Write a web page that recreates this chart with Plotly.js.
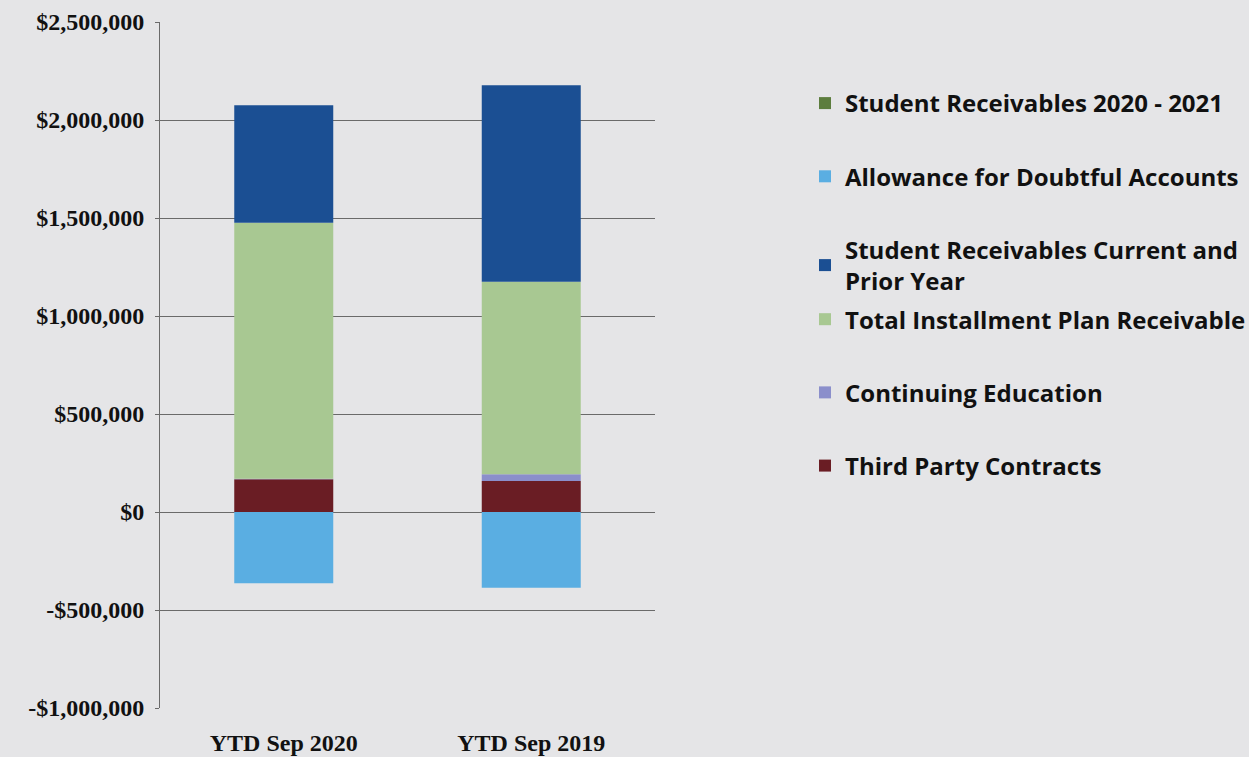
<!DOCTYPE html>
<html>
<head>
<meta charset="utf-8">
<script src="https://cdn.plot.ly/plotly-3.0.1.min.js"></script>
<style>
  html, body { margin: 0; padding: 0; background: #e5e5e7; }
  #chart { width: 1249px; height: 757px; }
</style>
</head>
<body>
<div id="chart"></div>
<script>
// Categories
const categories = ["YTD Sep 2020", "YTD Sep 2019"];

// Series values
const thirdParty      = [167000, 158000];
const continuingEd    = [3000, 34000];
const installmentPlan = [1306000, 983000];
const studentCurrent  = [599000, 1002000];
const allowance       = [-364000, -386000];
const student2020     = [0, 0];

// Series names
const seriesNames = [
  "Third Party Contracts",
  "Continuing Education",
  "Total Installment Plan Receivable",
  "Student Receivables Current and<br>Prior Year",
  "Allowance for Doubtful Accounts",
  "Student Receivables 2020 - 2021"
];
const seriesValues = [thirdParty, continuingEd, installmentPlan, studentCurrent, allowance, student2020];
const seriesColors = ["#6a1d24", "#8b8fcb", "#a8c892", "#1b4f93", "#5aaee2", "#5c7d3e"];
const seriesLegend = ["legend2", "legend2", "legend2", "legend", "legend", "legend"];
const seriesRank   = [6, 5, 4, 3, 2, 1];

// Y tick labels
const yTickVals = [-1000000, -500000, 0, 500000, 1000000, 1500000, 2000000, 2500000];
const yTickText = ["-$1,000,000", "-$500,000", "$0", "$500,000", "$1,000,000", "$1,500,000", "$2,000,000", "$2,500,000"];

const traces = seriesNames.map((name, i) => ({
  type: "bar",
  name: name,
  x: categories,
  y: seriesValues[i],
  marker: { color: seriesColors[i], line: { width: 0 } },
  legend: seriesLegend[i],
  legendgroup: "g" + i,
  legendrank: seriesRank[i],
  hoverinfo: "x+y+name"
}));

const legendFont = { family: "'Open Sans', Lato, sans-serif", size: 24, color: "#111", weight: "bold" };
const serifFont = { family: "'Liberation Serif', 'Times New Roman', serif", size: 24, color: "#111", weight: "bold" };

const layout = {
  width: 1249,
  height: 757,
  paper_bgcolor: "#e5e5e7",
  plot_bgcolor: "#e5e5e7",
  margin: { l: 160, r: 594, t: 22, b: 49, pad: 0, autoexpand: false },
  barmode: "relative",
  bargap: 0.6,
  showlegend: true,
  xaxis: {
    type: "category",
    showgrid: false,
    showline: false,
    zeroline: false,
    ticks: "",
    tickfont: serifFont,
    ticklabelstandoff: 18
  },
  yaxis: {
    range: [-1000000, 2500000],
    tickmode: "array",
    tickvals: yTickVals,
    ticktext: yTickText,
    showgrid: true,
    gridcolor: "#6a6a6a",
    gridwidth: 1,
    zeroline: true,
    zerolinecolor: "#6a6a6a",
    zerolinewidth: 1,
    showline: true,
    linecolor: "#6a6a6a",
    linewidth: 1,
    ticks: "outside",
    ticklen: 4,
    tickcolor: "#6a6a6a",
    ticklabelstandoff: 6,
    tickfont: serifFont
  },
  legend: {
    x: 1.303, xanchor: "left",
    y: 0.914, yanchor: "top",
    bgcolor: "rgba(0,0,0,0)",
    font: legendFont,
    traceorder: "grouped",
    tracegroupgap: 39,
    itemwidth: 30
  },
  legend2: {
    x: 1.303, xanchor: "left",
    y: 0.599, yanchor: "top",
    bgcolor: "rgba(0,0,0,0)",
    font: legendFont,
    traceorder: "grouped",
    tracegroupgap: 39,
    itemwidth: 30
  }
};

Plotly.newPlot("chart", traces, layout, { displayModeBar: false, staticPlot: true });
</script>
</body>
</html>
